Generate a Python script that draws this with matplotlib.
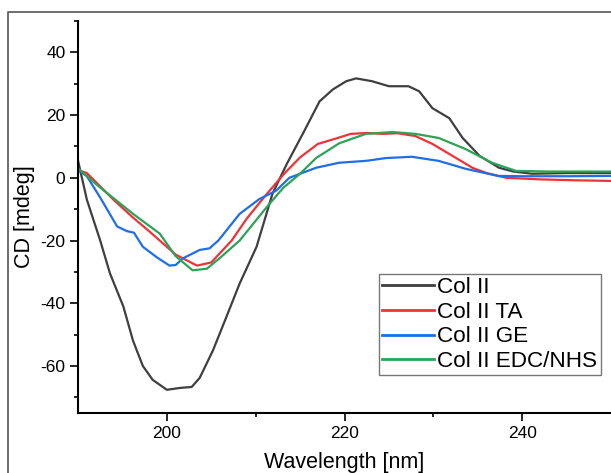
import numpy as np
import matplotlib.pyplot as plt
from matplotlib.lines import Line2D

plt.rcParams['font.family'] = ['Liberation Sans', 'DejaVu Sans']
plt.rcParams['axes.unicode_minus'] = False

# Col II
wl_col = [190, 191, 192.5, 193.6, 195.1, 196.2, 197.3, 198.4, 200, 201.5, 202.8,
          203.7, 205.2, 206.7, 208.2, 210.1, 211.9, 213.5, 215.3, 217.2, 218.7,
          220.2, 221.3, 223.1, 225, 227.2, 228.4, 229.9, 231.8, 233.3, 235.2,
          237.4, 239, 241.1, 245, 250]
cd_col = [5.5, -7, -20, -30.5, -41, -52, -60, -64.4, -67.6, -67, -66.7,
          -63.8, -55, -44.4, -33.7, -22, -5, 4.4, 14, 24.4, 28.2,
          30.8, 31.7, 30.8, 29.2, 29.2, 27.6, 22.2, 19, 12.7, 7,
          3.2, 2, 1.3, 1.5, 1.5]

# Col II TA
wl_ta = [190, 191, 192.1, 194, 196.2, 198, 199.2, 201, 203.4, 205, 207.3, 209,
         211, 213.3, 215, 217, 219, 220.7, 222.5, 224.3, 226, 228, 229.9, 231.8,
         234.4, 236, 238.2, 242, 246, 250]
cd_ta = [2.5, 1.5, -1.6, -7, -12.7, -17, -20, -24.5, -28, -27, -20, -13,
         -6, 1.6, 6.5, 10.8, 12.5, 14, 14.3, 14, 14.2, 13.3, 10.8, 7.6,
         3.2, 1.5, 0, -0.5, -0.8, -1]

# Col II GE
wl_ge = [190, 191, 192.5, 194.4, 195.5, 196.3, 197.3, 198.9, 200.3, 201, 201.8,
         203.7, 204.8, 205.8, 208.2, 210.4, 212.3, 213.8, 216.8, 219.4, 222.4,
         224.7, 227.6, 230.6, 233.6, 237.3, 240, 245, 250]
cd_ge = [2.5, 0.5, -6.3, -15.5, -17, -17.5, -22, -25.4, -28, -27.8, -25.7,
         -23, -22.5, -20, -11.5, -6.8, -4.1, 0, 3.2, 4.8, 5.4,
         6.3, 6.7, 5.4, 2.9, 0.6, 0.5, 0.5, 0.6]

# Col II EDC/NHS
wl_edc = [190, 192.1, 194, 196.2, 199.2, 201, 202.9, 204.5, 206, 208.2, 211.2,
          213.1, 215, 216.8, 219.4, 222.4, 225.4, 228, 230.6, 233.6, 236.6,
          239.3, 243, 250]
cd_edc = [3, -2.2, -6.5, -11.5, -17.8, -25, -29.5, -29, -25.5, -20, -9.5,
          -3.2, 1.3, 6.3, 11, 14, 14.6, 14, 12.7, 9.2, 4.8,
          2.2, 2, 2]

labels = ['Col II', 'Col II TA', 'Col II GE', 'Col II EDC/NHS']
colors = ['#3f3f3f', '#ee3338', '#1f6de8', '#2ea257']

fig = plt.figure(figsize=(6.11, 4.73), dpi=100)
ax = fig.add_axes([78 / 611, 60 / 473, 533 / 611, 392 / 473])

series = [(wl_col, cd_col), (wl_ta, cd_ta), (wl_ge, cd_ge), (wl_edc, cd_edc)]
for (x, y), lab, c in zip(series, labels, colors):
    ax.plot(x, y, color=c, lw=1.6, label=lab)

ax.set_xlim(190, 250)
ax.set_ylim(-75, 50)
ax.set_xticks([200, 220, 240])
ax.set_xticks([210, 230], minor=True)
ax.set_yticks([-60, -40, -20, 0, 20, 40])
ax.set_yticks([-70, -50, -30, -10, 10, 30, 50], minor=True)

for s in ['top', 'right']:
    ax.spines[s].set_visible(False)
for s in ['left', 'bottom']:
    ax.spines[s].set_linewidth(1.5)
ax.tick_params(which='major', direction='out', length=5.5, width=1.2, labelsize=12.5)
ax.tick_params(which='minor', direction='out', length=3, width=1.2)

ax.set_xlabel('Wavelength [nm]', fontsize=15.5, labelpad=8)
ax.set_ylabel('CD [mdeg]', fontsize=15.5, labelpad=4)

leg = ax.legend(loc='upper right', bbox_to_anchor=(0.981, 0.355), borderaxespad=0,
                fontsize=16.2, fancybox=False, frameon=True, labelspacing=0.16,
                handlelength=2.3, handletextpad=0.15, borderpad=0.15)
leg.get_frame().set_edgecolor('#555555')
leg.get_frame().set_linewidth(1.0)
for h in leg.get_lines():
    h.set_linewidth(2.0)

# outer frame of the figure panel
fig.add_artist(Line2D([8 / 611, 8 / 611, 1.0], [0, 1 - 12 / 473, 1 - 12 / 473],
                      transform=fig.transFigure, color='#555555', lw=1.2))

fig.savefig('out.png', dpi=100)
